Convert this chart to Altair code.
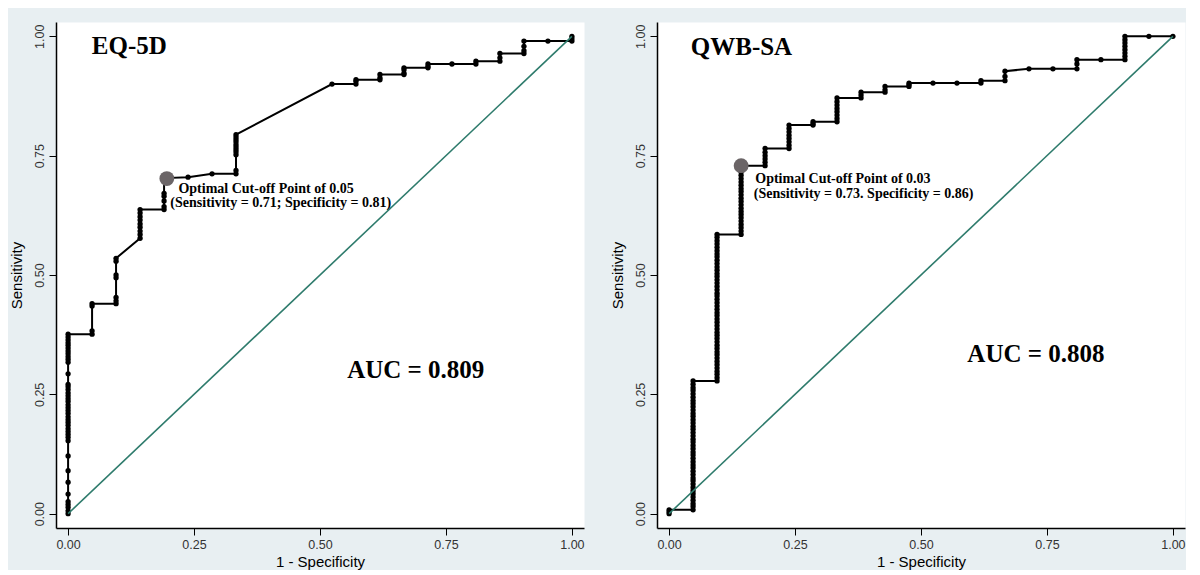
import altair as alt
import pandas as pd

# ---------------- data ----------------
TICKS = [0.0, 0.25, 0.5, 0.75, 1.0]
DIAG = [0.0, 1.0]

# EQ-5D: 1-specificity steps and the sensitivity values plotted at each step
EQ_FPR = [0.0, 0.0476, 0.0952, 0.1429, 0.1905, 0.2381, 0.2857, 0.3333,
          0.5238, 0.5714, 0.6190, 0.6667, 0.7143, 0.7619, 0.8095, 0.8571,
          0.9048, 0.9524, 1.0]
EQ_TPR = [
    [0.0, 0.006, 0.013, 0.019, 0.025, 0.041, 0.066, 0.09, 0.121, 0.153, 0.16,
     0.166, 0.172, 0.178, 0.185, 0.191, 0.197, 0.203, 0.21, 0.216, 0.222,
     0.228, 0.235, 0.241, 0.247, 0.253, 0.26, 0.266, 0.271, 0.293, 0.317,
     0.323, 0.329, 0.335, 0.341, 0.347, 0.353, 0.358, 0.364, 0.37, 0.376],
    [0.376, 0.383, 0.435, 0.44],
    [0.44, 0.446, 0.453, 0.494, 0.5, 0.529, 0.535],
    [0.577, 0.585, 0.592, 0.6, 0.607, 0.615, 0.622, 0.63, 0.637],
    [0.637, 0.643, 0.655, 0.665, 0.671, 0.703],
    [0.705],
    [0.712],
    [0.712, 0.719, 0.752, 0.758, 0.763, 0.768, 0.773, 0.779, 0.784, 0.789, 0.794],
    [0.9],
    [0.9, 0.906, 0.909],
    [0.909, 0.913, 0.92],
    [0.92, 0.923, 0.93, 0.934],
    [0.934, 0.937, 0.942],
    [0.942],
    [0.942, 0.948],
    [0.948, 0.955, 0.964],
    [0.964, 0.97, 0.979, 0.99],
    [0.99],
    [0.99, 0.995, 1.0],
]

# QWB-SA
QWB_FPR = [0.0, 0.0476, 0.0952, 0.1429, 0.1905, 0.2381, 0.2857, 0.3333,
           0.381, 0.4286, 0.4762, 0.5238, 0.5714, 0.619, 0.6667, 0.7143,
           0.7619, 0.8095, 0.8571, 0.9048, 0.9524, 1.0]
QWB_TPR = [
    [0.0, 0.004, 0.008],
    [0.008, 0.015, 0.021, 0.028, 0.035, 0.042, 0.048, 0.055, 0.062, 0.069,
     0.075, 0.082, 0.089, 0.096, 0.102, 0.109, 0.116, 0.123, 0.129, 0.136,
     0.143, 0.15, 0.156, 0.163, 0.17, 0.177, 0.183, 0.19, 0.197, 0.204, 0.21,
     0.217, 0.224, 0.231, 0.237, 0.244, 0.251, 0.258, 0.264, 0.271, 0.278],
    [0.278, 0.285, 0.292, 0.298, 0.305, 0.312, 0.319, 0.326, 0.333, 0.339,
     0.346, 0.353, 0.36, 0.367, 0.374, 0.38, 0.387, 0.394, 0.401, 0.408,
     0.415, 0.421, 0.428, 0.435, 0.442, 0.449, 0.456, 0.462, 0.469, 0.476,
     0.483, 0.49, 0.497, 0.503, 0.51, 0.517, 0.524, 0.531, 0.538, 0.544,
     0.551, 0.558, 0.565, 0.572, 0.579, 0.585],
    [0.585, 0.592, 0.599, 0.606, 0.613, 0.62, 0.627, 0.633, 0.64, 0.647,
     0.654, 0.661, 0.668, 0.675, 0.681, 0.688, 0.695, 0.702, 0.709, 0.716,
     0.722, 0.729],
    [0.729, 0.736, 0.743, 0.75, 0.757, 0.765],
    [0.765, 0.772, 0.779, 0.786, 0.793, 0.8, 0.807, 0.814],
    [0.814, 0.817, 0.821],
    [0.821, 0.828, 0.835, 0.842, 0.849, 0.856, 0.863, 0.871],
    [0.871, 0.877, 0.883],
    [0.883, 0.888, 0.895],
    [0.895, 0.899, 0.902],
    [0.902],
    [0.902],
    [0.902, 0.907],
    [0.907, 0.916, 0.927],
    [0.932],
    [0.932],
    [0.932, 0.942, 0.951],
    [0.951],
    [0.951, 0.958, 0.965, 0.972, 0.979, 0.986, 0.993, 1.0],
    [1.0],
    [1.0],
]

PANEL_TITLES = ["EQ-5D", "QWB-SA"]
AUC_LABELS = ["AUC = 0.809", "AUC = 0.808"]
CUT_LINE1 = ["Optimal Cut-off Point of 0.05", "Optimal Cut-off Point of 0.03"]
CUT_LINE2 = ["(Sensitivity = 0.71; Specificity = 0.81)",
             "(Sensitivity = 0.73. Specificity = 0.86)"]
OPT_X = [0.196, 0.143]
OPT_Y = [0.702, 0.729]

# ---------------- layout / style ----------------
BG = "#e8eff2"
TEAL = "#2e7b6c"
SERIF = "Liberation Serif"
SANS = "Liberation Sans"
W, H = 528, 506

# anchor positions (data units) of the text annotations per panel
TITLE_POS = [(0.047, 0.98), (0.043, 0.978)]
AUC_POS = [(0.554, 0.301), (0.592, 0.335)]
CUT1_POS = [(0.219, 0.681), (0.171, 0.702)]
CUT2_POS = [(0.203, 0.650), (0.168, 0.669)]


def panel(k, fpr, tpr):
    rows = []
    i = 0
    for x, ys in zip(fpr, tpr):
        for y in ys:
            rows.append({"x": x, "y": y, "i": i})
            i += 1
    df = pd.DataFrame(rows)

    xsc = alt.Scale(domain=[-0.024, 1.024], nice=False, zero=False)
    ysc = alt.Scale(domain=[-0.03, 1.03], nice=False, zero=False)
    xe = alt.X("x:Q", scale=xsc,
               axis=alt.Axis(values=TICKS, format=".2f", title="1 - Specificity"))
    ye = alt.Y("y:Q", scale=ysc,
               axis=alt.Axis(values=TICKS, format=".2f", title="Sensitivity",
                             labelAngle=270))

    line = alt.Chart(df).mark_line(color="black", strokeWidth=2).encode(
        x=xe, y=ye, order="i:Q")
    pts = alt.Chart(df).mark_point(shape="circle", filled=True, color="black",
                                   size=28, opacity=1).encode(x=xe, y=ye)
    diag = alt.Chart(pd.DataFrame({"x": DIAG, "y": DIAG})).mark_line(
        color=TEAL, strokeWidth=1.6).encode(x=xe, y=ye)
    opt = alt.Chart(pd.DataFrame({"x": [OPT_X[k]], "y": [OPT_Y[k]]})).mark_point(
        shape="circle", filled=True, color="#6b6567", size=220, opacity=1
    ).encode(x=xe, y=ye)

    def txt(pos, s, size):
        d = pd.DataFrame({"x": [pos[0]], "y": [pos[1]], "t": [s]})
        return alt.Chart(d).mark_text(
            align="left", baseline="middle", font=SERIF, fontWeight="bold",
            fontSize=size, color="black"
        ).encode(x=xe, y=ye, text="t:N")

    layers = [
        line, pts, diag, opt,
        txt(TITLE_POS[k], PANEL_TITLES[k], 25),
        txt(AUC_POS[k], AUC_LABELS[k], 25),
        txt(CUT1_POS[k], CUT_LINE1[k], 14),
        txt(CUT2_POS[k], CUT_LINE2[k], 14),
    ]
    return alt.layer(*layers).properties(width=W, height=H)


left = panel(0, EQ_FPR, EQ_TPR)
right = panel(1, QWB_FPR, QWB_TPR)

chart = alt.hconcat(left, right, spacing=24).properties(
    background=BG,
    padding={"left": 0, "top": 13, "right": 0, "bottom": 0},
).configure_view(
    stroke="transparent", fill="white"
).configure_axis(
    grid=False, domainColor="black", domainWidth=1.5, tickColor="black",
    tickSize=7, tickWidth=1, labelFont=SANS, labelFontSize=12.5,
    labelColor="#333333", titleFont=SANS, titleFontSize=15,
    titleFontWeight="normal", titleColor="black", labelPadding=3,
    labelFlush=False,
).configure_axisX(
    titlePadding=4
).configure_axisY(
    titlePadding=9
)

chart.save("out.html", embed_options={"renderer": "svg", "actions": False})
